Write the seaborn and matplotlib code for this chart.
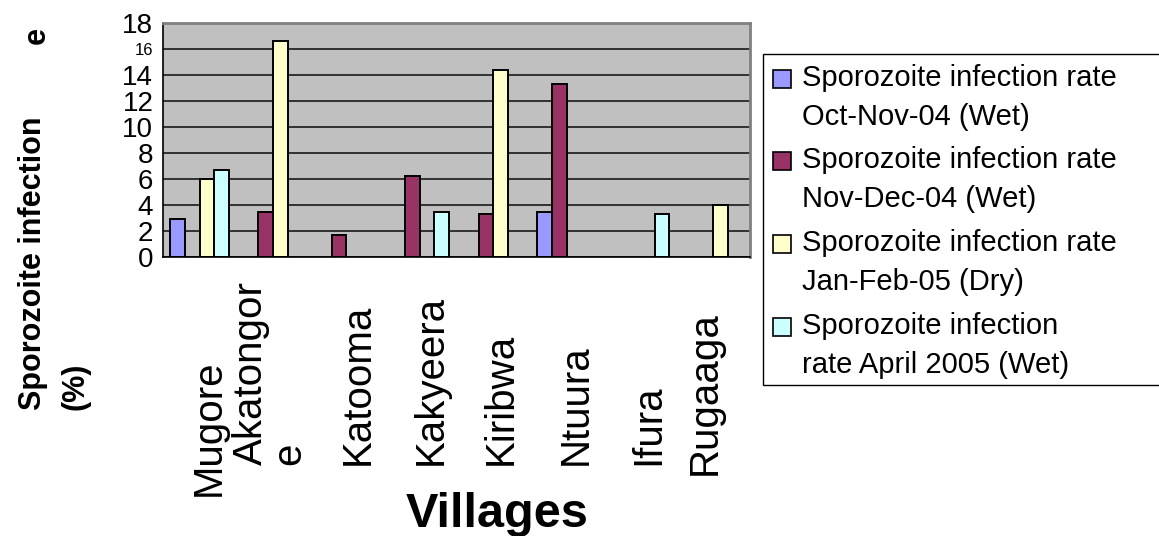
import numpy as np
import pandas as pd
import matplotlib
matplotlib.use("Agg")
import matplotlib.pyplot as plt
from matplotlib.patches import Rectangle
from matplotlib.transforms import blended_transform_factory
import seaborn as sns

# ---- data -------------------------------------------------------------
villages = ["Mugore", "Akatongore", "Katooma", "Kakyeera",
            "Kiribwa", "Ntuura", "Ifura", "Rugaaga"]
village_labels = ["Mugore", "Akatongor\ne", "Katooma", "Kakyeera",
                  "Kiribwa", "Ntuura", "Ifura", "Rugaaga"]

periods = [
    "Sporozoite infection rate\nOct-Nov-04 (Wet)",
    "Sporozoite infection rate\nNov-Dec-04 (Wet)",
    "Sporozoite infection rate\nJan-Feb-05 (Dry)",
    "Sporozoite infection\nrate April 2005 (Wet)",
]

nan = np.nan
rate_oct_nov_04 = [2.9, nan, nan, nan, nan, 3.5, nan, nan]
rate_nov_dec_04 = [nan, 3.5, 1.7, 6.2, 3.3, 13.3, nan, nan]
rate_jan_feb_05 = [6.0, 16.6, nan, nan, 14.4, nan, nan, 4.0]
rate_apr_05 = [6.7, nan, nan, 3.5, nan, nan, 3.3, nan]

y_ticks = [0, 2, 4, 6, 8, 10, 12, 14, 16, 18]

# ---- style ------------------------------------------------------------
colors = ["#9999FF", "#993366", "#FFFFCC", "#CCFFFF"]
FONT = "Liberation Sans"
W, H = 1159, 536

series = [rate_oct_nov_04, rate_nov_dec_04, rate_jan_feb_05, rate_apr_05]
df = pd.DataFrame({
    "village": np.repeat([villages], len(periods), axis=0).ravel(),
    "period": np.repeat(periods, len(villages)),
    "rate": np.concatenate(series),
}).dropna()

sns.set_style("white")
plt.rcParams["font.family"] = [FONT, "DejaVu Sans"]
plt.rcParams["text.color"] = "black"
plt.rcParams["xtick.color"] = "black"
plt.rcParams["ytick.color"] = "black"
plt.rcParams["axes.labelcolor"] = "black"

fig = plt.figure(figsize=(W / 100, H / 100), dpi=100)
ax = fig.add_axes([163 / W, 1 - 257 / H, 587 / W, 234 / H])

sns.barplot(data=df, x="village", y="rate", hue="period",
            order=villages, hue_order=periods, palette=colors,
            saturation=1, width=0.8, edgecolor="black", linewidth=1.4,
            legend=False, ax=ax)

ax.set_facecolor("#C0C0C0")
ax.set_xlim(-0.5, len(villages) - 0.5)
ax.set_ylim(0, 18)
ax.set_xlabel("")
ax.set_ylabel("")

# horizontal gridlines
ax.set_axisbelow(True)
ax.yaxis.grid(True, color="#1a1a1a", linewidth=1.2)
ax.xaxis.grid(False)

# spines
for side in ("left", "bottom"):
    ax.spines[side].set_color("black")
    ax.spines[side].set_linewidth(1.2)
for side in ("top", "right"):
    ax.spines[side].set_visible(True)
    ax.spines[side].set_color("#808080")
    ax.spines[side].set_linewidth(2)

# y tick labels (the 16 is printed smaller)
ax.set_yticks(y_ticks)
ax.set_yticklabels([str(v) for v in y_ticks])
for lab, v in zip(ax.get_yticklabels(), y_ticks):
    lab.set_fontsize(12 if v == 16 else 20)
    lab.set_color("black")
ax.tick_params(axis="y", length=0, pad=7)

# x ticks mark the category boundaries; names are placed separately
ax.set_xticks(np.arange(len(villages) + 1) - 0.5)
ax.set_xticklabels([])
ax.tick_params(axis="x", length=8, width=1, color="black", direction="out")

trans = blended_transform_factory(ax.transData, ax.transAxes)
label_dx = [0.12, -0.04, 0.15, 0.15, 0.10, 0.12, 0.11, -0.12]
label_base = [-1.02, -0.89, -0.89, -0.89, -0.89, -0.89, -0.89, -0.93]
for i, name in enumerate(village_labels):
    ax.text(i + label_dx[i], label_base[i], name, transform=trans,
            rotation=90, ha="center", va="bottom", multialignment="left",
            fontsize=29, linespacing=1.0, clip_on=False, color="black")

# axis titles
fig.text(33 / W, 1 - 410 / H, "Sporozoite infection", rotation=90,
         ha="center", va="bottom", fontsize=22, fontweight="bold")
fig.text(37 / W, 1 - 36 / H, "e", rotation=90,
         ha="center", va="center", fontsize=22, fontweight="bold")
fig.text(75 / W, 1 - 410 / H, "(%)", rotation=90,
         ha="center", va="bottom", fontsize=22, fontweight="bold")
fig.text(497 / W, 1 - 527 / H, "Villages", ha="center", va="baseline",
         fontsize=35, fontweight="bold")

# legend box, running off the right edge of the figure
fig.patches.append(Rectangle((763 / W, 1 - 385 / H), 420 / W, 331 / H,
                             transform=fig.transFigure, facecolor="white",
                             edgecolor="black", linewidth=1.0, zorder=0))
entry_top = [70, 152, 235, 318]
for top, label, col in zip(entry_top, periods, colors):
    fig.patches.append(Rectangle((773 / W, 1 - (top + 18) / H), 18 / W, 18 / H,
                                 transform=fig.transFigure, facecolor=col,
                                 edgecolor="black", linewidth=1.2, zorder=2))
    fig.text(802 / W, 1 - (top - 6) / H, label, ha="left", va="top",
             fontsize=21, linespacing=1.5)

fig.savefig("out.png", dpi=100)
